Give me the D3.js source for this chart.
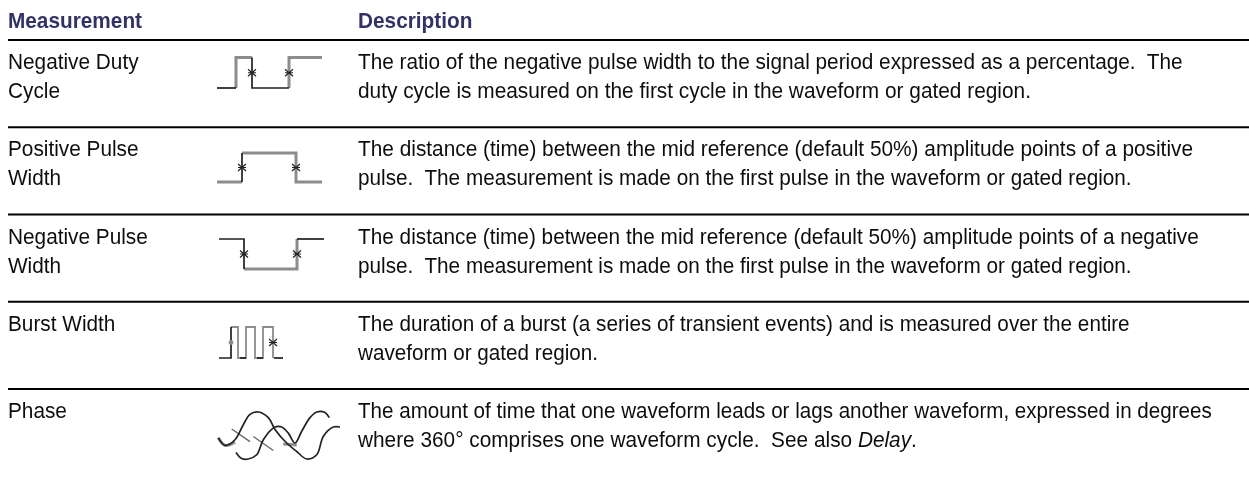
<!DOCTYPE html>
<html>
<head>
<meta charset="utf-8">
<script src="https://cdn.jsdelivr.net/npm/d3@7"></script>
<style>
    html, body { margin: 0; padding: 0; background: #fff; }
    svg { display: block; }
    text { font-family: "Liberation Sans", Arial, sans-serif; white-space: pre; }
</style>
</head>
<body>
<div id="chart"></div>
<script>
var measurements = [['Negative Duty', 'Cycle'], ['Positive Pulse', 'Width'], ['Negative Pulse', 'Width'], ['Burst Width'], ['Phase']];

var descriptions = [
    ['The ratio of the negative pulse width to the signal period expressed as a percentage.  The',
     'duty cycle is measured on the first cycle in the waveform or gated region.'],
    ['The distance (time) between the mid reference (default 50%) amplitude points of a positive',
     'pulse.  The measurement is made on the first pulse in the waveform or gated region.'],
    ['The distance (time) between the mid reference (default 50%) amplitude points of a negative',
     'pulse.  The measurement is made on the first pulse in the waveform or gated region.'],
    ['The duration of a burst (a series of transient events) and is measured over the entire',
     'waveform or gated region.'],
    ['The amount of time that one waveform leads or lags another waveform, expressed in degrees',
     'where 360\u00b0 comprises one waveform cycle.  See also |Delay|.']
];

var headers = ['Measurement', 'Description'];

// icon waveforms: [x, level] in icon units, level 1 = high, 0 = low
var duty_dark_a  = [[0, 0], [19, 0]];
var duty_gray_a  = [[19, 0], [19, 1], [35, 1]];
var duty_dark_b  = [[35, 1], [35, 0], [72, 0]];
var duty_gray_b  = [[72, 0], [72, 1], [105, 1]];
var duty_marks   = [[35, 0.5], [72, 0.5]];

var pos_gray_a = [[0, 0], [25, 0]];
var pos_dark   = [[25, 0], [25, 1]];
var pos_gray_b = [[25, 1], [79, 1], [79, 0], [105, 0]];
var pos_marks  = [[25, 0.5], [79, 0.5]];

var neg_dark_a = [[2, 1], [27, 1], [27, 0]];
var neg_gray   = [[27, 0], [80, 0], [80, 1]];
var neg_dark_b = [[80, 1], [107, 1]];
var neg_marks  = [[27, 0.5], [80, 0.5]];

var burst_dark_a = [[2, 0], [14, 0], [14, 1]];
var burst_dark_b = [[23, 0], [29, 0]];
var burst_dark_c = [[40, 0], [46, 0]];
var burst_dark_d = [[57, 0], [66, 0]];
var burst_gray = [[14, 1], [21, 1], [21, 0], [29, 0], [29, 1], [38, 1], [38, 0], [46, 0], [46, 1], [56, 1], [56, 0]];
var burst_marks = [[56, 0.5]];
var burst_dots  = [[14, 0.5]];

var phase_a = [[1.3, 0.45], [8, 0.29], [18, 0.41], [26.3, 0.73], [33, 0.95], [41.3, 1], [51.3, 0.88], [58, 0.63], [69.7, 0.34], [79.7, 0.16], [89.7, 0], [99.7, 0.09], [106.3, 0.48], [116.3, 0.68], [123, 0.68]];
var phase_b = [[19, 0.14], [24.7, 0.01], [31.3, 0], [39.7, 0.09], [46.3, 0.41], [58, 0.68], [64.7, 0.68], [71.3, 0.55], [78, 0.34], [84.7, 0.59], [93, 0.88], [99.7, 1], [108, 0.99], [112.3, 0.88]];
var phase_gray_a = [[1.3, 0.45], [8, 0.29], [18, 0.36]];
var phase_gray_b = [[66.3, 0.32], [79.7, 0.3]];
var phase_gray_c = [[14.7, 0.64], [33, 0.37]];
var phase_gray_d = [[36.3, 0.48], [56.3, 0.18]];

// right end of each description line
var line_ends = [[1183, 1031], [1193, 1132], [1199, 1132], [1130, 598], [1212, 917]];

var svg_width  = 1249;
var svg_height = 482;
var font_size  = 21.6;
var squeeze    = 0.963;
var line_gap   = 29;
var text_x     = 8;
var desc_x     = 358;
var dark_color = '#222';
var gray_color = '#8c8c8c';

var svg = d3.select('#chart')
    .append('svg')
    .attr('width', svg_width)
    .attr('height', svg_height);

var defs = svg.append('defs');
defs.append('filter').attr('id', 'soft')
    .append('feGaussianBlur').attr('stdDeviation', 0.55);
defs.append('filter').attr('id', 'soft-text')
    .append('feGaussianBlur').attr('stdDeviation', 0.3);

var row_scale = d3.scaleLinear().domain([0, 4]).range([40, 389]);
var text_layer = svg.append('g').attr('filter', 'url(#soft-text)');

function add_text(x, y, k) {
    return text_layer.append('text')
        .attr('transform', 'translate(' + x + ',' + y + ') scale(' + k + ',1)')
        .attr('font-size', font_size)
        .attr('fill', '#111');
}

// Header
add_text(text_x, 28, squeeze).attr('font-weight', 'bold').attr('fill', '#333366').text(headers[0]);
add_text(desc_x, 28, squeeze).attr('font-weight', 'bold').attr('fill', '#333366').text(headers[1]);

// Rules
svg.selectAll('line.rule')
    .data(d3.range(5))
    .enter()
    .append('line')
    .attr('class', 'rule')
    .attr('x1', 8).attr('x2', svg_width)
    .attr('y1', function(d) { return row_scale(d); })
    .attr('y2', function(d) { return row_scale(d); })
    .attr('stroke', '#000')
    .attr('stroke-width', 2);

// Row texts
measurements.forEach(function(lines, i) {
    lines.forEach(function(line, j) {
        add_text(text_x, row_scale(i) + 29 + j * line_gap, squeeze).text(line);
    });
});

descriptions.forEach(function(lines, i) {
    lines.forEach(function(line, j) {
        var y = row_scale(i) + 29 + j * line_gap;
        var el = add_text(desc_x, y, 1);
        line.split('|').forEach(function(part, k) {
            el.append('tspan')
                .attr('font-style', k === 1 ? 'italic' : 'normal')
                .text(part);
        });
        // fit the line to where it ends in the original
        var k = (line_ends[i][j] - desc_x) / el.node().getComputedTextLength();
        el.attr('transform', 'translate(' + desc_x + ',' + y + ') scale(' + k + ',1)');
    });
});

// Icons
function draw_icon(x0, y_low, y_high, icon) {
    var g = svg.append('g').attr('filter', 'url(#soft)');
    var x = d3.scaleLinear().domain([0, 1]).range([x0, x0 + 1]);
    var y = d3.scaleLinear().domain([0, 1]).range([y_low, y_high]);
    var line = d3.line()
        .x(function(d) { return x(d[0]); })
        .y(function(d) { return y(d[1]); })
        .curve(icon.curve || d3.curveLinear);

    (icon.gray || []).forEach(function(points) {
        g.append('path').attr('d', line(points)).attr('fill', 'none')
            .attr('stroke', gray_color).attr('stroke-width', icon.gray_width || 3);
    });
    (icon.thin || []).forEach(function(points) {
        g.append('path').attr('d', line(points)).attr('fill', 'none')
            .attr('stroke', '#666').attr('stroke-width', 1.3);
    });
    (icon.dark || []).forEach(function(points) {
        g.append('path').attr('d', line(points)).attr('fill', 'none')
            .attr('stroke', dark_color).attr('stroke-width', 1.7);
    });
    g.selectAll('path.mark')
        .data(icon.marks || [])
        .enter()
        .append('path')
        .attr('class', 'mark')
        .attr('d', 'M-4,-3.5L4,3.5M4,-3.5L-4,3.5M-4,0L4,0')
        .attr('transform', function(d) { return 'translate(' + x(d[0]) + ',' + y(d[1]) + ')'; })
        .attr('fill', 'none')
        .attr('stroke', dark_color)
        .attr('stroke-width', 1.2);
    g.selectAll('circle.dot')
        .data(icon.dots || [])
        .enter()
        .append('circle')
        .attr('class', 'dot')
        .attr('cx', function(d) { return x(d[0]); })
        .attr('cy', function(d) { return y(d[1]); })
        .attr('r', 2.4)
        .attr('fill', gray_color);
}

draw_icon(217, 88, 57.5, {dark: [duty_dark_a, duty_dark_b], gray: [duty_gray_a, duty_gray_b], marks: duty_marks});
draw_icon(217, 182, 153, {dark: [pos_dark], gray: [pos_gray_a, pos_gray_b], marks: pos_marks});
draw_icon(217, 269, 239, {dark: [neg_dark_a, neg_dark_b], gray: [neg_gray], marks: neg_marks});
draw_icon(217, 358, 327, {dark: [burst_dark_a, burst_dark_b, burst_dark_c, burst_dark_d], gray: [burst_gray], gray_width: 1.8, marks: burst_marks, dots: burst_dots});
draw_icon(217, 459, 412, {dark: [phase_a, phase_b], gray: [phase_gray_a, phase_gray_b], thin: [phase_gray_c, phase_gray_d], curve: d3.curveCatmullRom});
</script>
</body>
</html>
